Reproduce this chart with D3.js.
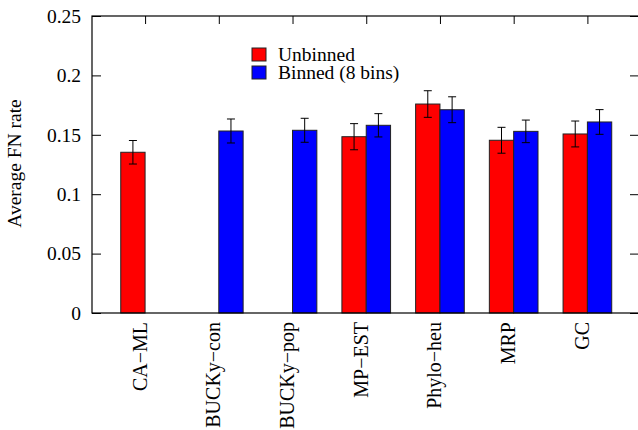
<!DOCTYPE html>
<html>
<head>
<meta charset="utf-8">
<script src="https://d3js.org/d3.v7.min.js"></script>
<style>
  body { margin: 0; background: #fff; }
</style>
</head>
<body>
<svg id="chart" width="638" height="430"></svg>
<script>
// values, null = no bar
let methods = ['CA\u2212ML', 'BUCKy\u2212con', 'BUCKy\u2212pop', 'MP\u2212EST', 'Phylo\u2212heu', 'MRP', 'GC'];
let unbinned = [0.1353, null, null, 0.1484, 0.1759, 0.1454, 0.1507];
let unbinnedErr = [0.0099, null, null, 0.0110, 0.0112, 0.0109, 0.0109];
let binned = [null, 0.1532, 0.1538, 0.1580, 0.1711, 0.1529, 0.1608];
let binnedErr = [null, 0.0101, 0.0101, 0.0098, 0.0109, 0.0095, 0.0104];
let yTicks = [0, 0.05, 0.1, 0.15, 0.2, 0.25];
let seriesNames = ['Unbinned', 'Binned (8 bins)'];
let seriesColors = ['#ff0000', '#0000ff'];

// plot frame (note: "top" is taken by window.top)
var pLeft = 92, pRight = 639, pTop = 16, pBottom = 313,
    barW = 0.33, fontSize = 19.5,
    serif = '"Liberation Serif", "DejaVu Serif", serif';

let svg = d3.select('svg#chart');

let x = d3.scaleLinear()
    .domain([-0.72, methods.length - 0.3])
    .range([pLeft, pRight]);

let y = d3.scaleLinear()
    .domain([0, 0.25])
    .range([pBottom, pTop]);

// bars, side by side around the category centre
let series = [
    { vals: unbinned, errs: unbinnedErr, off: -barW },
    { vals: binned, errs: binnedErr, off: 0 }
];

series.forEach(function(s, k) {
    let rows = methods.map(function(m, i) {
        return { i: i, v: s.vals[i], e: s.errs[i] };
    }).filter(function(d) { return d.v != null; });

    let g = svg.append('g').attr('class', 'series' + k);

    g.selectAll('rect')
        .data(rows)
        .enter().append('rect')
        .attr('x', function(d) { return x(d.i + s.off); })
        .attr('width', function(d) { return x(d.i + s.off + barW) - x(d.i + s.off); })
        .attr('y', function(d) { return y(d.v); })
        .attr('height', function(d) { return y(0) - y(d.v); })
        .attr('fill', seriesColors[k])
        .attr('stroke', '#222')
        .attr('stroke-width', 1);

    // error bars
    let eb = g.selectAll('g.err')
        .data(rows)
        .enter().append('g')
        .attr('class', 'err')
        .attr('stroke', '#000')
        .attr('stroke-width', 1);
    let cx = function(d) { return x(d.i + s.off + barW / 2); };
    eb.append('line')
        .attr('x1', cx).attr('x2', cx)
        .attr('y1', function(d) { return y(d.v - d.e); })
        .attr('y2', function(d) { return y(d.v + d.e); });
    [-1, 1].forEach(function(sg) {
        eb.append('line')
            .attr('x1', function(d) { return cx(d) - 4; })
            .attr('x2', function(d) { return cx(d) + 4; })
            .attr('y1', function(d) { return y(d.v + sg * d.e); })
            .attr('y2', function(d) { return y(d.v + sg * d.e); });
    });
});

// axes with inward ticks
let yAxis = svg.append('g')
    .attr('transform', 'translate(' + pLeft + ',0)')
    .call(d3.axisLeft(y).tickValues(yTicks).tickSize(-9).tickPadding(11)
        .tickFormat(function(d) { return String(+d.toFixed(2)); }));
yAxis.attr('font-family', serif).attr('font-size', fontSize);

svg.append('g')
    .attr('transform', 'translate(' + pRight + ',0)')
    .call(d3.axisRight(y).tickValues(yTicks).tickSize(-9).tickFormat(''));

svg.append('g')
    .attr('transform', 'translate(0,' + pTop + ')')
    .call(d3.axisTop(x).tickValues(d3.range(methods.length)).tickSize(-8).tickFormat(''));

svg.selectAll('.domain').remove();
svg.selectAll('.tick line').attr('stroke', '#000');

svg.append('rect')
    .attr('x', pLeft).attr('y', pTop)
    .attr('width', pRight - pLeft).attr('height', pBottom - pTop)
    .attr('fill', 'none')
    .attr('stroke', '#000')
    .attr('stroke-width', 1.2);

// category labels, rotated
svg.append('g')
    .attr('font-family', serif)
    .attr('font-size', 20)
    .selectAll('text')
    .data(methods)
    .enter().append('text')
    .attr('transform', function(d, i) { return 'translate(' + (x(i) + 1.5) + ',' + (pBottom + 9) + ') rotate(-90)'; })
    .attr('text-anchor', 'end')
    .text(function(d) { return d; });

// y label
svg.append('text')
    .attr('transform', 'translate(21,' + ((pTop + pBottom) / 2 - 1) + ') rotate(-90)')
    .attr('text-anchor', 'middle')
    .attr('font-family', serif)
    .attr('font-size', fontSize)
    .text('Average FN rate');

// legend
let legend = svg.append('g')
    .attr('font-family', serif)
    .attr('font-size', fontSize)
    .selectAll('g')
    .data(seriesNames)
    .enter().append('g')
    .attr('transform', function(d, i) { return 'translate(252,' + (48 + i * 18) + ')'; });
legend.append('rect')
    .attr('width', 14).attr('height', 13)
    .attr('fill', function(d, i) { return seriesColors[i]; })
    .attr('stroke', '#222');
legend.append('text')
    .attr('x', 26).attr('y', 12.5)
    .text(function(d) { return d; });
</script>
</body>
</html>
